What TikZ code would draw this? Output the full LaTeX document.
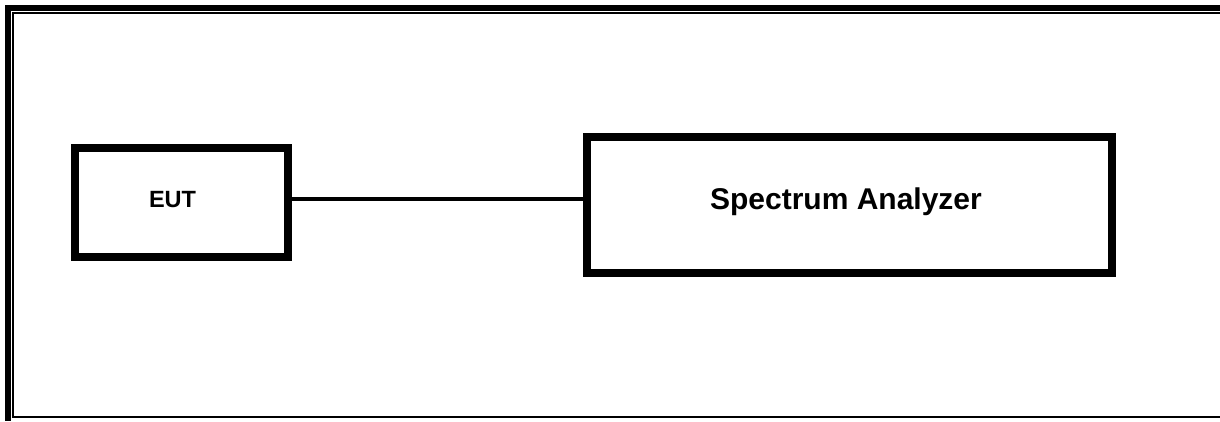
\documentclass[tikz,border=0pt]{standalone}
\usepackage{fontspec}
\setmainfont{Liberation Sans}
\begin{document}
\begin{tikzpicture}[x=1pt,y=-1pt,
  box/.style={draw=black, line width=8pt, inner sep=0pt, fill=white},
  frame/.style={fill=black},
  wire/.style={draw=black, line width=4pt}]
\useasboundingbox (0,0) rectangle (1220,421);
\fill[white] (0,0) rectangle (1220,421);
% page frame
\fill[frame] (5,5) rectangle (1220,11);
\fill[frame] (5,5) rectangle (11,421);
\fill[frame] (12,12) rectangle (1220,14);
\fill[frame] (12,12) rectangle (14,418);
\fill[frame] (12,416) rectangle (1220,418);
% boxes
\node[box, minimum width=213pt, minimum height=109pt,
  label={[xshift=-9pt,yshift=2.5pt,font=\fontsize{23.5}{28}\selectfont\bfseries]center:EUT}]
  (eut) at (181.5,202.5) {};
\node[box, minimum width=525pt, minimum height=136pt,
  label={[xshift=-3.5pt,yshift=3.5pt,font=\fontsize{30}{36}\selectfont\bfseries]center:Spectrum Analyzer}]
  (sa) at (849.5,205) {};
\coordinate (wy) at (0,198.5);
\draw[wire] (eut.east |- wy) -- (sa.west |- wy);
\end{tikzpicture}
\end{document}
